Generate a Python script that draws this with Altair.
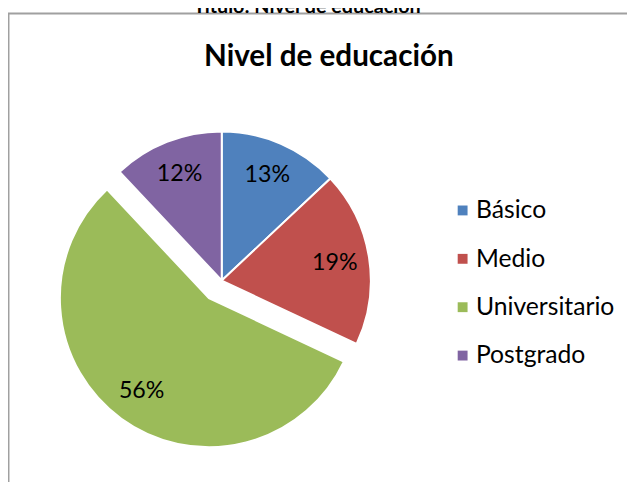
import altair as alt
import pandas as pd

# ---- data ----
categories = ["Básico", "Medio", "Universitario", "Postgrado"]
values = [13, 19, 56, 12]
colors = ["#4F81BD", "#C0504D", "#9BBB59", "#8064A2"]
exploded = [0, 0, 1, 0]
chart_title = "Nivel de educación"
caption = "Título: Nivel de educación"

df = pd.DataFrame({
    "category": categories,
    "value": values,
    "explode": exploded,
    "order": list(range(len(categories))),
})

FONT = "Lato"
CX, CY = 216.5, 273    # pie centre (px)
R = 151                # pie radius (px)
D = 22                 # explode distance (px)
LR = 116               # label radius (px)

base = (
    alt.Chart(df)
    .transform_window(cum="sum(value)", sort=[alt.SortField("order")], frame=[None, 0])
    .transform_joinaggregate(total="sum(value)")
    .transform_calculate(
        t0="(datum.cum - datum.value) / datum.total * 2 * PI",
        t1="datum.cum / datum.total * 2 * PI",
    )
    .transform_calculate(tm="(datum.t0 + datum.t1) / 2")
    .transform_calculate(
        cx=f"{CX} + datum.explode * {D} * sin(datum.tm)",
        cy=f"{CY} - datum.explode * {D} * cos(datum.tm)",
    )
    .transform_calculate(
        lx=f"datum.cx + {LR} * sin(datum.tm)",
        ly=f"datum.cy - {LR} * cos(datum.tm)",
        pct="round(datum.value / datum.total * 100) + '%'",
    )
)

pie = base.mark_arc(radius=R, stroke="white", strokeWidth=2).encode(
    x=alt.X("cx:Q", scale=None),
    y=alt.Y("cy:Q", scale=None),
    theta=alt.Theta("t0:Q", scale=None),
    theta2="t1:Q",
    color=alt.Color(
        "category:N",
        scale=alt.Scale(domain=categories, range=colors),
        sort=categories,
        legend=alt.Legend(
            title=None,
            orient="none",
            legendX=448,
            legendY=189.5,
            symbolType="square",
            symbolSize=100,
            symbolStrokeWidth=0,
            labelFont=FONT,
            labelFontSize=25,
            labelColor="black",
            labelOffset=1,
            rowPadding=23,
        ),
    ),
)

labels = base.mark_text(font=FONT, fontSize=23.5, color="black").encode(
    x=alt.X("lx:Q", scale=None),
    y=alt.Y("ly:Q", scale=None),
    text="pct:N",
)

frame_df = pd.DataFrame({"t": [chart_title], "c": [caption]})

box = alt.Chart(frame_df).mark_rect(
    fill="white", stroke="#a0a0a0", strokeWidth=2
).encode(
    x=alt.value(0.5), x2=alt.value(800), y=alt.value(2.5), y2=alt.value(800)
)

title_txt = alt.Chart(frame_df).mark_text(
    font=FONT, fontSize=30, fontWeight="bold", color="black", baseline="alphabetic"
).encode(x=alt.value(325), y=alt.value(55.5), text="t:N")

caption_txt = alt.Chart(frame_df).mark_text(
    font=FONT, fontSize=20, fontWeight="bold", color="black", baseline="alphabetic"
).encode(x=alt.value(303), y=alt.value(1.5), text="c:N")

chart = (
    alt.layer(box, caption_txt, title_txt, pie, labels)
    .properties(width=627, height=474, padding=0, autosize=alt.AutoSizeParams(type="none"))
    .configure_view(stroke=None)
)

chart.save("out.html", embed_options={"renderer": "svg", "actions": False})
